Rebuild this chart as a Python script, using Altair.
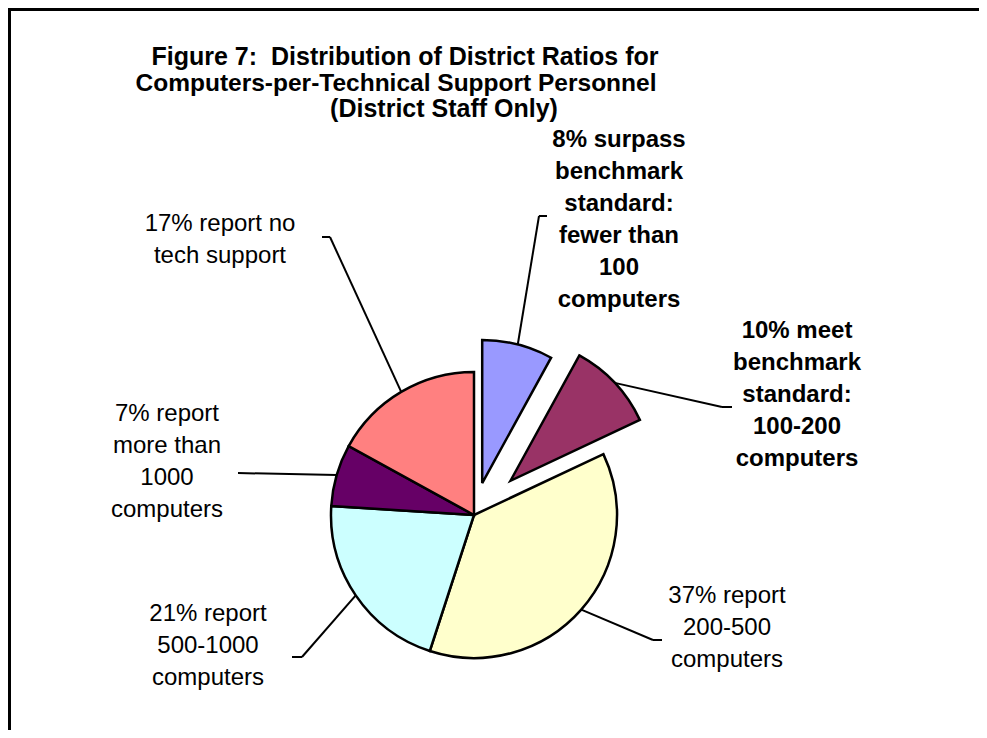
import altair as alt
import pandas as pd

# ---- data ----
categories = ["fewer than 100", "100-200", "200-500", "500-1000", "more than 1000", "no tech support"]
values = [8, 10, 37, 21, 7, 17]
colors = ["#9999FF", "#993366", "#FFFFCC", "#CCFFFF", "#660066", "#FF8080"]
explode = [33, 50, 0, 0, 0, 0]
labels = [
    "8% surpass\nbenchmark\nstandard:\nfewer than\n100\ncomputers",
    "10% meet\nbenchmark\nstandard:\n100-200\ncomputers",
    "37% report\n200-500\ncomputers",
    "21% report\n500-1000\ncomputers",
    "7% report\nmore than\n1000\ncomputers",
    "17% report no\ntech support",
]
bold = [True, True, False, False, False, False]

# ---- annotation layout (page pixels) ----
OFF = 8
label_x = [619, 797, 727, 208, 167, 220]
label_y = [139, 330, 595, 613, 413, 223]   # centre of first line
leader_x = [539, 722, 653, 302, 238, 330]
leader_y = [216, 407, 640, 657, 473, 237]
tick_dx = [8, 10, 9, -10, 0, -8]

title_lines = ["Figure 7:\u00a0 Distribution of District Ratios for",
               "Computers-per-Technical Support Personnel",
               "(District Staff Only)"]
title_x = [405, 396, 444]
title_y = [56, 82, 108]
title_size = [25, 24.5, 25]

CX, CY, R = 474 - OFF, 515 - OFF, 143

df = pd.DataFrame({
    "cat": categories, "value": values, "color": colors, "explode": explode,
    "label": labels, "bold": bold,
    "lx": [v - OFF for v in label_x], "ly": [v - OFF + 8 for v in label_y],
    "ex": [v - OFF for v in leader_x], "ey": [v - OFF for v in leader_y],
    "tdx": tick_dx, "order": list(range(len(values))),
})

base = alt.Chart(df).transform_window(
    cum="sum(value)", sort=[alt.SortField("order")], frame=[None, 0]
).transform_calculate(
    start="datum.cum - datum.value",
    mid="(datum.cum - datum.value/2) / 100 * 2 * PI",
).transform_calculate(
    cx=f"{CX} + datum.explode * sin(datum.mid)",
    cy=f"{CY} - datum.explode * cos(datum.mid)",
).transform_calculate(
    sx=f"datum.cx + {R} * sin(datum.mid)",
    sy=f"datum.cy - {R} * cos(datum.mid)",
    tx="datum.ex + datum.tdx",
)

theta_scale = alt.Scale(domain=[0, 100], range=[0, 6.283185307179586])

pie = base.mark_arc(radius=R, stroke="black", strokeWidth=2.5).encode(
    x=alt.X("cx:Q", scale=None),
    y=alt.Y("cy:Q", scale=None),
    theta=alt.Theta("start:Q", scale=theta_scale),
    theta2="cum:Q",
    color=alt.Color("color:N", scale=None),
)

leaders = base.mark_rule(color="black", strokeWidth=2).encode(
    x=alt.X("sx:Q", scale=None), y=alt.Y("sy:Q", scale=None),
    x2="ex:Q", y2="ey:Q",
)
ticks = base.mark_rule(color="black", strokeWidth=2).encode(
    x=alt.X("ex:Q", scale=None), y=alt.Y("ey:Q", scale=None),
    x2="tx:Q", y2="ey:Q",
)

txt_kw = dict(font="Liberation Sans", fontSize=24, lineBreak="\n", lineHeight=32,
              align="center", baseline="alphabetic", color="black")
lab_bold = base.transform_filter("datum.bold").mark_text(fontWeight="bold", **txt_kw).encode(
    x=alt.X("lx:Q", scale=None), y=alt.Y("ly:Q", scale=None), text="label:N")
lab_norm = base.transform_filter("!datum.bold").mark_text(**txt_kw).encode(
    x=alt.X("lx:Q", scale=None), y=alt.Y("ly:Q", scale=None), text="label:N")

tdf = pd.DataFrame({"t": title_lines, "x": [v - OFF for v in title_x],
                    "y": [v - OFF + 9 for v in title_y], "s": title_size})
title = alt.Chart(tdf).mark_text(font="Liberation Sans", fontWeight="bold",
                                 align="center", baseline="alphabetic", color="black").encode(
    x=alt.X("x:Q", scale=None), y=alt.Y("y:Q", scale=None), text="t:N",
    size=alt.Size("s:Q", scale=None))

frame_h = alt.Chart(pd.DataFrame({"a": [0]})).mark_rule(color="black", strokeWidth=3).encode(
    x=alt.value(0), x2=alt.value(971), y=alt.value(1.5))
frame_v = alt.Chart(pd.DataFrame({"a": [0]})).mark_rule(color="black", strokeWidth=3).encode(
    x=alt.value(1.5), y=alt.value(0), y2=alt.value(722))

chart = alt.layer(frame_h, frame_v, leaders, ticks, pie, lab_bold, lab_norm, title).properties(
    width=971, height=722, padding=0, autosize="none"
).configure_view(stroke=None)

chart.save("out.html", embed_options={"renderer": "svg", "actions": False})
